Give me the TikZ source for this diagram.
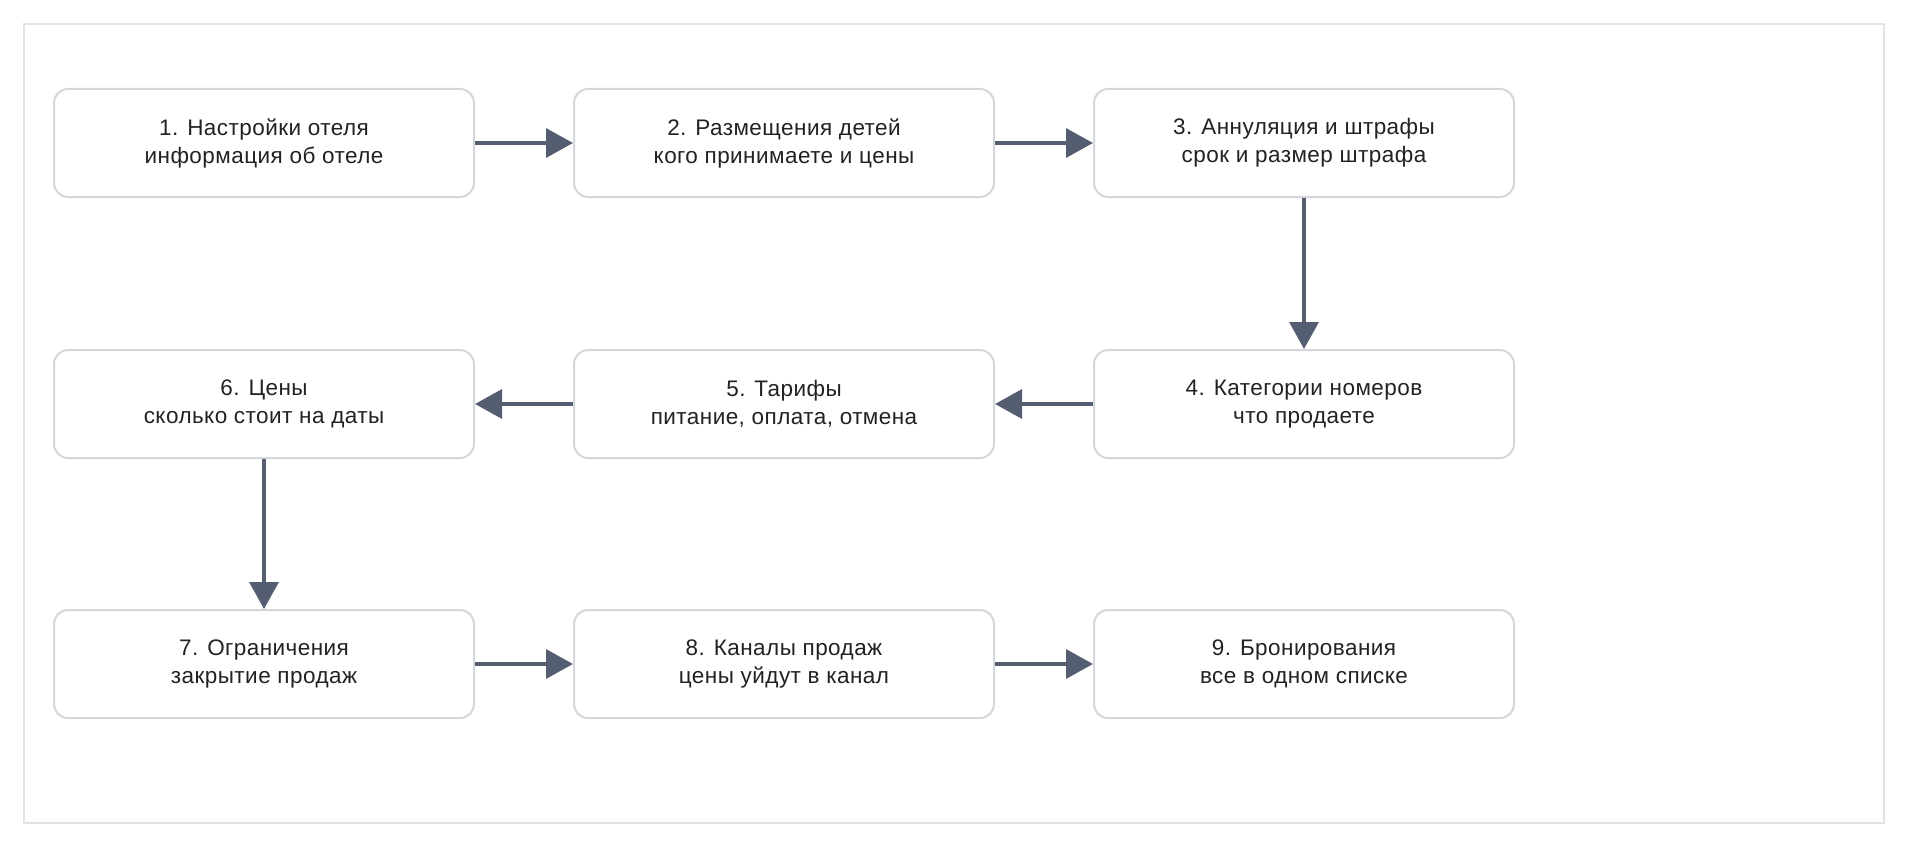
\documentclass[tikz,border=0pt]{standalone}
\usepackage{fontspec}
\setmainfont{Liberation Sans}[LetterSpace=2.0]
\usetikzlibrary{arrows.meta}
\definecolor{boxc}{HTML}{D3D6DB}
\definecolor{framec}{HTML}{E2E3E6}
\definecolor{arrc}{HTML}{545E70}
\definecolor{txtc}{HTML}{222222}
\tikzset{
  stepbox/.style={draw=boxc, line width=2pt, rounded corners=14pt, fill=white,
    minimum width=420pt, minimum height=108pt, align=center, text=txtc,
    font=\fontsize{22.5pt}{28pt}\selectfont, inner sep=0pt},
  arr/.style={draw=arrc, line width=3.5pt, -{Triangle[length=27pt,width=29pt]}},
  framebox/.style={draw=framec, line width=1.5pt}
}
\begin{document}
\begin{tikzpicture}[x=1pt,y=-1pt]
\useasboundingbox (0,0) rectangle (1908,848);
\draw[framebox] (24,24) rectangle (1884,823);
\node[stepbox] (n1) at (264,143) {1. Настройки отеля\\информация об отеле};
\node[stepbox] (n2) at (784,143) {2. Размещения детей\\кого принимаете и цены};
\node[stepbox] (n3) at (1304,143) {3. Аннуляция и штрафы\\срок и размер штрафа};
\node[stepbox] (n4) at (1304,404) {4. Категории номеров\\что продаете};
\node[stepbox] (n5) at (784,404) {5. Тарифы\\питание, оплата, отмена};
\node[stepbox] (n6) at (264,404) {6. Цены\\сколько стоит на даты};
\node[stepbox] (n7) at (264,664) {7. Ограничения\\закрытие продаж};
\node[stepbox] (n8) at (784,664) {8. Каналы продаж\\цены уйдут в канал};
\node[stepbox] (n9) at (1304,664) {9. Бронирования\\все в одном списке};
\draw[arr] (n1.east) -- (n2.west);
\draw[arr] (n2.east) -- (n3.west);
\draw[arr] (n3.south) -- (n4.north);
\draw[arr] (n4.west) -- (n5.east);
\draw[arr] (n5.west) -- (n6.east);
\draw[arr] (n6.south) -- (n7.north);
\draw[arr] (n7.east) -- (n8.west);
\draw[arr] (n8.east) -- (n9.west);
\end{tikzpicture}
\end{document}
